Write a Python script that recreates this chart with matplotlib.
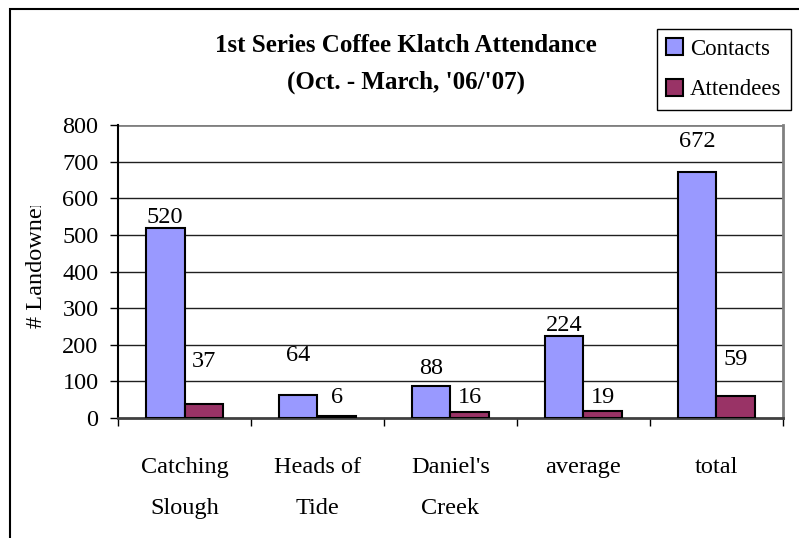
import numpy as np
import matplotlib
matplotlib.use("Agg")
from matplotlib import pyplot as plt
from matplotlib.patches import Rectangle
from matplotlib.transforms import Bbox, TransformedBbox

categories = ["Catching\nSlough", "Heads of\nTide", "Daniel's\nCreek", "average", "total"]
contacts = [520, 64, 88, 224, 672]
attendees = [37, 6, 16, 19, 59]
series_names = ["Contacts", "Attendees"]
y_ticks = [0, 100, 200, 300, 400, 500, 600, 700, 800]

# where the labels were dragged to in the original (data units)
contacts_label_y = [520, 172, 136, 224, 754]
attendees_label_y = [153, 57, 55, 57, 161]

plt.rcParams['font.family'] = ['Liberation Serif', 'DejaVu Serif']
fs = 17.5

fig = plt.figure(figsize=(7.99, 5.38), dpi=100)
ax = fig.add_axes([118 / 799, 1 - 418 / 538, (783 - 118) / 799, (418 - 125) / 538])

x = np.arange(len(categories))
w = 0.29
ax.bar(x - w / 2, contacts, w, color='#9999FF', edgecolor='black', linewidth=1.5,
       label=series_names[0], zorder=3)
ax.bar(x + w / 2, attendees, w, color='#993366', edgecolor='black', linewidth=1.5,
       label=series_names[1], zorder=3)

for i in range(len(categories)):
    va = 'bottom' if contacts_label_y[i] == contacts[i] else 'center'
    ax.text(x[i] - w / 2, contacts_label_y[i], str(contacts[i]), ha='center', va=va,
            fontsize=fs, zorder=4)
    ax.text(x[i] + w / 2, attendees_label_y[i], str(attendees[i]), ha='center', va='center',
            fontsize=fs, zorder=4)

ax.set_xlim(-0.5, len(categories) - 0.5)
ax.set_ylim(0, 800)
ax.set_yticks(y_ticks)
ax.tick_params(axis='y', direction='out', length=6, width=1, pad=8, labelsize=fs)
for v in y_ticks[1:-1]:
    ax.axhline(v, color='#202020', linewidth=1, zorder=1)
ax.axhline(800, color='#808080', linewidth=2, zorder=1)

ax.set_xticks(x)
ax.set_xticklabels(categories, fontsize=fs, linespacing=2.25)
ax.tick_params(axis='x', length=0, pad=28)
ax.set_xticks(np.arange(-0.5, len(categories)), minor=True)
ax.tick_params(axis='x', which='minor', direction='out', length=6, width=1)

ax.spines['top'].set_visible(False)
ax.spines['right'].set_color('#808080')
ax.spines['right'].set_linewidth(2)
ax.spines['bottom'].set_color('#404040')
ax.spines['bottom'].set_linewidth(2)
ax.spines['left'].set_linewidth(1.5)

fig.text(406 / 799, 1 - 46 / 538, "1st Series Coffee Klatch Attendance", ha='center', va='center',
         fontsize=18, fontweight='bold')
fig.text(406 / 799, 1 - 82 / 538, "(Oct. - March, '06/'07)", ha='center', va='center',
         fontsize=18, fontweight='bold')

# axis title is cut off in the original
yl = fig.text(36 / 799, 1 - 328 / 538, "# Landowners", rotation=90, ha='center', va='bottom',
              fontsize=fs)
yl.set_clip_box(TransformedBbox(Bbox([[0, 0], [0.1, 1 - 206 / 538]]), fig.transFigure))
yl.set_clip_on(True)

leg = fig.legend(loc='upper left', bbox_to_anchor=(657 / 799, 1 - 29 / 538), fontsize=16.5,
                 frameon=True, fancybox=False, edgecolor='black', framealpha=1,
                 handlelength=0.75, handleheight=0.75, handletextpad=0.3, labelspacing=0.85,
                 borderpad=0.4, borderaxespad=0)
leg.get_frame().set_linewidth(1)

fig.patches.append(Rectangle((10 / 799, -0.1), 1.2, 1 - 9 / 538 + 0.1, transform=fig.transFigure,
                             fill=False, edgecolor='black', linewidth=1.5))

fig.savefig('out.png', dpi=100)
